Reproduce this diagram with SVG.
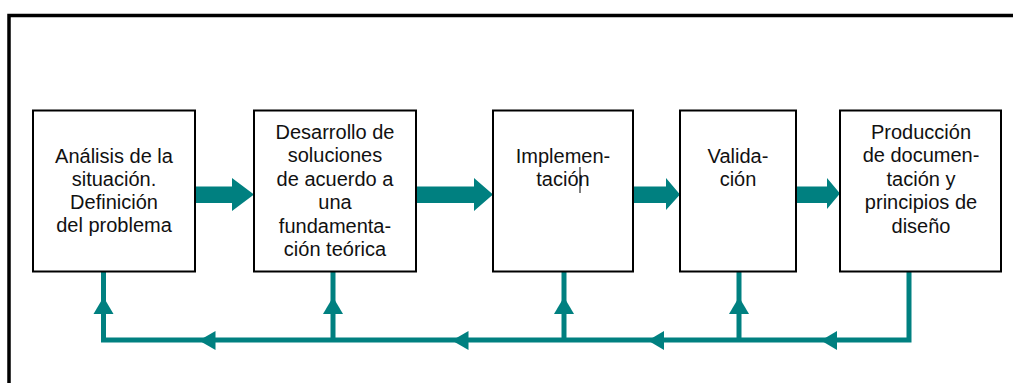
<svg xmlns="http://www.w3.org/2000/svg" width="1013" height="383" viewBox="0 0 1013 383">
<style>
.box{fill:#fff;stroke:#000;stroke-width:2}
.t{font-family:"Liberation Sans",Arial,sans-serif;font-size:20px;fill:#111;text-anchor:middle}
.teal{fill:#008080}
.fb{fill:none;stroke:#008080;stroke-width:5}
</style>
<rect width="1013" height="383" fill="#fff"/>
<path d="M9,383 V15.5 H1013" fill="none" stroke="#000" stroke-width="3.5"/>
<g id="connectors">
<polygon class="teal" points="195,186.5 232,186.5 232,178 254,194.5 232,211 232,203 195,203"/>
<polygon class="teal" points="416,186.5 474,186.5 474,178 493,194.5 474,211 474,203 416,203"/>
<polygon class="teal" points="633,186.5 666,186.5 666,178 680,194.5 666,210 666,203 633,203"/>
<polygon class="teal" points="796,186.5 827,186.5 827,178 840,193.5 827,209 827,203 796,203"/>
<polyline class="fb" points="909,272 909,340 103.5,340 103.5,272"/>
<line class="fb" x1="333" y1="340" x2="333" y2="272"/>
<line class="fb" x1="564" y1="340" x2="564" y2="272"/>
<line class="fb" x1="739" y1="340" x2="739" y2="272"/>
<polygon class="teal" points="103.5,297 113.5,314 93.5,314"/>
<polygon class="teal" points="333,297 343,314 323,314"/>
<polygon class="teal" points="564,297 574,314 554,314"/>
<polygon class="teal" points="739,297 749,314 729,314"/>
<polygon class="teal" points="199,340.5 215.5,331 215.5,350"/>
<polygon class="teal" points="452,340.5 468.5,331 468.5,350"/>
<polygon class="teal" points="648,340.5 664,331 664,350"/>
<polygon class="teal" points="821,340.5 837,331 837,350"/>
</g>
<g id="n1">
<rect class="box" x="33" y="110.5" width="162" height="161"/>
<text class="t"><tspan x="114" y="162.5">Análisis de la</tspan><tspan x="114" y="185.8">situación.</tspan><tspan x="114" y="209.1">Definición</tspan><tspan x="114" y="232.4">del problema</tspan></text>
</g>
<g id="n2">
<rect class="box" x="254" y="110.5" width="162" height="161"/>
<text class="t"><tspan x="335" y="138.5">Desarrollo de</tspan><tspan x="335" y="162">soluciones</tspan><tspan x="335" y="185.5">de acuerdo a</tspan><tspan x="335" y="209">una</tspan><tspan x="335" y="232.5">fundamenta-</tspan><tspan x="335" y="256">ción teórica</tspan></text>
</g>
<g id="n3">
<rect class="box" x="493" y="110.5" width="140" height="161"/>
<text class="t"><tspan x="563" y="162.5">Implemen-</tspan><tspan x="563" y="185.8">tación</tspan></text>
<line x1="580" y1="167" x2="580" y2="193" stroke="#000" stroke-width="1"/>
</g>
<g id="n4">
<rect class="box" x="680" y="110.5" width="116" height="161"/>
<text class="t"><tspan x="738" y="162.5">Valida-</tspan><tspan x="738" y="185.8">ción</tspan></text>
</g>
<g id="n5">
<rect class="box" x="840" y="110.5" width="161" height="161"/>
<text class="t"><tspan x="921" y="138.5">Producción</tspan><tspan x="921" y="162">de documen-</tspan><tspan x="921" y="185.5">tación y</tspan><tspan x="921" y="209">principios de</tspan><tspan x="921" y="232.5">diseño</tspan></text>
</g>
</svg>
